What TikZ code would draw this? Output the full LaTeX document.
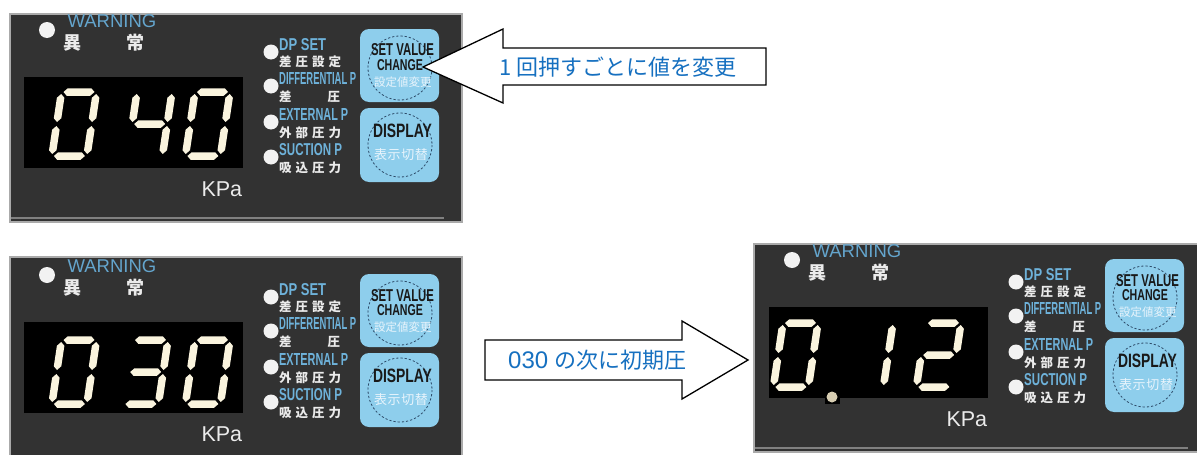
\documentclass[tikz,border=0pt]{standalone}
\usepackage{fontspec}
\setmainfont{Liberation Sans}
\newfontfamily\jp{Noto Sans CJK JP}
\definecolor{panelbg}{RGB}{50,50,50}
\definecolor{paneledge}{RGB}{170,170,170}
\definecolor{ledblue}{RGB}{110,178,218}
\definecolor{warnblue}{RGB}{100,165,205}
\definecolor{btnblue}{RGB}{142,206,236}
\definecolor{segcol}{RGB}{250,244,222}
\definecolor{dotcol}{RGB}{215,205,178}
\definecolor{arrowtext}{RGB}{22,112,192}
\definecolor{dashc}{RGB}{45,75,105}
\definecolor{btnjp}{RGB}{232,244,252}
\definecolor{jpwhite}{RGB}{235,235,235}
\definecolor{ledwhite}{RGB}{242,242,242}
\newcommand\fsz[1]{\fontsize{#1}{#1}\selectfont}
\newcommand\hseg[1]{\fill[segcol] (2,#1)--(5.75,#1-3.75)--(29.25,#1-3.75)--(33,#1)--(29.25,#1+3.75)--(5.75,#1+3.75)--cycle;}
\newcommand\vseg[2]{\fill[segcol] (#1,#2)--(#1+3.75,#2+3.75)--(#1+3.75,#2+24.25)--(#1,#2+28)--(#1-3.75,#2+24.25)--(#1-3.75,#2+3.75)--cycle;}
\newcommand\ledsega{\hseg{0}}
\newcommand\ledsegb{\vseg{35}{2}}
\newcommand\ledsegc{\vseg{35}{34}}
\newcommand\ledsegd{\hseg{64}}
\newcommand\ledsege{\vseg{0}{34}}
\newcommand\ledsegf{\vseg{0}{2}}
\newcommand\ledsegg{\hseg{32}}
\newcommand\leddigit[3]{\begin{scope}[shift={(#1,#2)},xslant=0.15]\foreach \s in {#3}{\csname ledseg\s\endcsname}\end{scope}}
\newcommand\ctrlpanel[3]{%
\begin{scope}[shift={(#2,#3)}]
  \fill[black] (24,77) rectangle (243,168);
  \node[led, minimum size=16pt] (#1-wled) at (47,30) {};
  \node[anchor=base west, text=warnblue, font=\fsz{18.5}] (#1-warn) at (64,27.5) {WARNING};
  \node[text=jpwhite, font=\jp\bfseries\fsz{18}] (#1-i) at (72,43) {異};
  \node[text=jpwhite, font=\jp\bfseries\fsz{18}] (#1-j) at (135,43) {常};
  \node[anchor=base west, text=jpwhite, font=\fsz{21.5}] (#1-kpa) at (198,196) {KPa};
  \node[led] (#1-l1) at (271,52) {};
  \node[led] (#1-l2) at (271,86) {};
  \node[led] (#1-l3) at (271,122) {};
  \node[led] (#1-l4) at (271,157) {};
  \node[lab] (#1-t1) at (279,50) {\resizebox{47pt}{12pt}{DP SET}};
  \node[jlab] (#1-j1) at (279,61.5) {\makebox[62pt][s]{差\hfill 圧\hfill 設\hfill 定}};
  \node[lab] (#1-t2) at (279,84) {\resizebox{77pt}{12pt}{DIFFERENTIAL P}};
  \node[jlab] (#1-j2) at (279,96.5) {\makebox[61pt][s]{差\hfill 圧}};
  \node[lab] (#1-t3) at (279,120) {\resizebox{69pt}{12pt}{EXTERNAL P}};
  \node[jlab] (#1-j3) at (279,133) {\makebox[62pt][s]{外\hfill 部\hfill 圧\hfill 力}};
  \node[lab] (#1-t4) at (279,155) {\resizebox{63pt}{12pt}{SUCTION P}};
  \node[jlab] (#1-j4) at (279,167.5) {\makebox[62pt][s]{吸\hfill 込\hfill 圧\hfill 力}};
  \fill[btnblue, rounded corners=9pt] (360,29) rectangle (439,102);
  \fill[btnblue, rounded corners=9pt] (360,108) rectangle (439,182);
  \draw[ring] (400,68) circle[radius=32];
  \draw[ring] (400,145) circle[radius=32];
  \node[btxt] (#1-sv) at (402.5,56) {\resizebox{63pt}{12pt}{\bfseries SET VALUE}};
  \node[btxt] (#1-ch) at (400,70) {\resizebox{46pt}{11pt}{\bfseries CHANGE}};
  \node[text=btnjp, font=\jp\fsz{11.5}, inner sep=0] (#1-sj) at (401,82.5) {\makebox[54pt][s]{設\hfill 定\hfill 値\hfill 変\hfill 更}};
  \node[btxt] (#1-dp) at (402.5,137) {\resizebox{59pt}{13.5pt}{\bfseries DISPLAY}};
  \node[text=btnjp, font=\jp\fsz{13}, inner sep=0] (#1-dj) at (401,155) {\makebox[54pt][s]{表\hfill 示\hfill 切\hfill 替}};
\end{scope}}
\begin{document}
\begin{tikzpicture}[x=1pt,y=-1pt,
  led/.style={circle, fill=ledwhite, minimum size=15pt, inner sep=0pt},
  lab/.style={anchor=base west, text=ledblue, inner sep=0pt, font=\bfseries},
  jlab/.style={anchor=west, text=jpwhite, font=\jp\bfseries\fsz{12.5}, inner sep=0pt},
  btxt/.style={anchor=base, text=black!90, inner sep=0pt},
  ring/.style={draw=dashc, line width=0.8pt, dash pattern=on 2.2pt off 2pt},
  arrowbox/.style={draw=black, fill=white, line width=1.3pt, line join=miter},
  atext/.style={text=arrowtext, anchor=west, inner sep=0pt}]
\useasboundingbox (0,0) rectangle (1197,455);
\clip (0,0) rectangle (1197,455);
% panel 1
\filldraw[fill=panelbg, draw=paneledge, line width=2pt] (10,14) rectangle (462,222);
\draw[gray, line width=1.5pt] (11,218) -- (444,218);
\ctrlpanel{pa}{0}{0}
\leddigit{61.5}{92}{a,b,c,d,e,f}
\leddigit{137}{92}{f,g,b,c}
\leddigit{195}{92}{a,b,c,d,e,f}
% panel 2
\filldraw[fill=panelbg, draw=paneledge, line width=2pt] (10,257) rectangle (462,475);
\ctrlpanel{pb}{0}{245}
\leddigit{61.5}{340}{a,b,c,d,e,f}
\leddigit{133}{340}{a,b,g,c,d}
\leddigit{195}{340}{a,b,c,d,e,f}
% panel 3
\filldraw[fill=panelbg, draw=paneledge, line width=2pt] (754,244) rectangle (1220,452);
\draw[gray, line width=1.5pt] (755,448) -- (1188,448);
\ctrlpanel{pc}{745}{230}
\fill[black] (825,398) rectangle (840,404);
\leddigit{783}{323}{a,b,c,d,e,f}
\leddigit{858}{323}{b,c}
\leddigit{926}{323}{a,b,g,e,d}
\fill[dotcol] (832,397) circle[radius=5.5];
% arrow 1
\filldraw[arrowbox] (423,67) -- (503,29) -- (503,48) -- (766,48) -- (766,85) -- (503,85) -- (503,103) -- cycle;
\node[atext, font=\jp\fsz{22}] (msg1) at (499,67) {1 回押すごとに値を変更};
% arrow 2
\filldraw[arrowbox] (485,340) -- (682,340) -- (682,321) -- (748,360) -- (682,399) -- (682,380) -- (485,380) -- cycle;
\node[atext, font=\jp\fsz{22}] (msg2) at (508,360) {{\fontspec{Liberation Sans}\fsz{24}030}\hspace{6pt}の次に初期圧};
\end{tikzpicture}
\end{document}
